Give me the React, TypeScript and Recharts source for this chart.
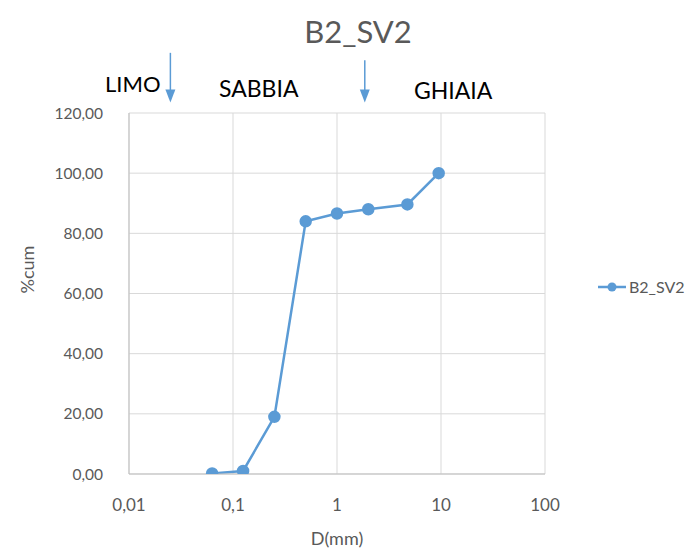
import { CartesianGrid, Legend, Line, LineChart, ReferenceLine, XAxis, YAxis } from "recharts"

const diameters = [0.063, 0.125, 0.25, 0.5, 1, 2, 4.75, 9.5]
const cumPercent = [0.2, 1.0, 19.0, 84.0, 86.6, 88.0, 89.6, 100.0]
const xTicks = [0.01, 0.1, 1, 10, 100]
const yTicks = [0, 20, 40, 60, 80, 100, 120]
// boundaries marked with arrows above the plot (x, top y, bottom y)
const arrowMarks = [
 { x: 0.025, top: 140, bottom: 123.5 },
 { x: 1.85, top: 137.5, bottom: 123.5 },
]

const chartData = diameters.map((d, i) => ({ d, B2_SV2: cumPercent[i] }))

const FONT = "Lato, 'Open Sans', sans-serif"
const GREY = "#595959"
const BLUE = "#5b9bd5"

const comma = (v: number, digits: number) => v.toFixed(digits).replace(".", ",")

const Arrow = (props: any) => {
 const { x1, y1, x2, y2 } = props
 if (x1 == null || y1 == null) return null
 const top = Math.min(y1, y2)
 const bottom = Math.max(y1, y2)
 return (
  <g>
   <line x1={x1} y1={top} x2={x1} y2={bottom - 12} stroke={BLUE} strokeWidth={1.5} />
   <path d={`M${x1 - 5},${bottom - 13} L${x1 + 5},${bottom - 13} L${x1},${bottom} Z`} fill={BLUE} />
  </g>
 )
}

export default function App() {
 return (
  <div style={{ position: "relative", width: 698, height: 551, background: "#fff", fontFamily: FONT }}>
   <style>{"body{margin:0}"}</style>
   <div style={{ position: "absolute", left: 258, width: 200, top: 12, textAlign: "center", fontSize: 31, color: GREY }}>
    B2_SV2
   </div>
   <div style={{ position: "absolute", left: 105, top: 70, fontSize: 22, color: "#000" }}>LIMO</div>
   <div style={{ position: "absolute", left: 219, top: 74, fontSize: 23, color: "#000" }}>SABBIA</div>
   <div style={{ position: "absolute", left: 414, top: 76, fontSize: 23, color: "#000" }}>GHIAIA</div>
   <LineChart
    width={698}
    height={551}
    data={chartData}
    margin={{ top: 113, right: 53, bottom: 0, left: 0 }}
    style={{ position: "absolute", left: 0, top: 0 }}
   >
    <CartesianGrid stroke="#d9d9d9" />
    <XAxis
     dataKey="d"
     type="number"
     scale="log"
     domain={[0.01, 100]}
     ticks={xTicks}
     allowDataOverflow
     height={77}
     tickFormatter={(v: number) => String(v).replace(".", ",")}
     tick={{ fill: GREY, fontSize: 17, fontFamily: FONT }}
     tickLine={false}
     axisLine={{ stroke: "#bfbfbf" }}
     tickMargin={19}
     label={{ value: "D(mm)", position: "insideBottom", offset: 6, fill: GREY, fontSize: 18, fontFamily: FONT }}
    />
    <YAxis
     domain={[0, 120]}
     ticks={yTicks}
     width={129}
     allowDataOverflow
     tickFormatter={(v: number) => comma(v, 2)}
     tick={{ fill: GREY, fontSize: 15.5, fontFamily: FONT }}
     tickLine={false}
     axisLine={{ stroke: "#bfbfbf" }}
     tickMargin={20}
     label={{ value: "%cum", angle: -90, position: "insideLeft", offset: 28, fill: GREY, fontSize: 18, fontFamily: FONT }}
    />
    {arrowMarks.map((a, i) => (
     <ReferenceLine
      key={i}
      segment={[{ x: a.x, y: a.top }, { x: a.x, y: a.bottom }]}
      ifOverflow="visible"
      shape={<Arrow />}
     />
    ))}
    <Legend
     layout="vertical"
     align="right"
     verticalAlign="middle"
     wrapperStyle={{ right: 0, left: 598, top: 277, width: 100 }}
     content={() => (
      <div style={{ display: "flex", alignItems: "center", fontSize: 16, color: GREY, fontFamily: FONT }}>
       <svg width={28} height={12}>
        <line x1={0} y1={6} x2={28} y2={6} stroke={BLUE} strokeWidth={2.5} />
        <circle cx={14} cy={6} r={4.5} fill={BLUE} />
       </svg>
       <span style={{ marginLeft: 3 }}>B2_SV2</span>
      </div>
     )}
    />
    <Line
     dataKey="B2_SV2"
     stroke={BLUE}
     strokeWidth={2.5}
     dot={{ r: 5, fill: BLUE, stroke: BLUE }}
     isAnimationActive={false}
    />
   </LineChart>
  </div>
 )
}
